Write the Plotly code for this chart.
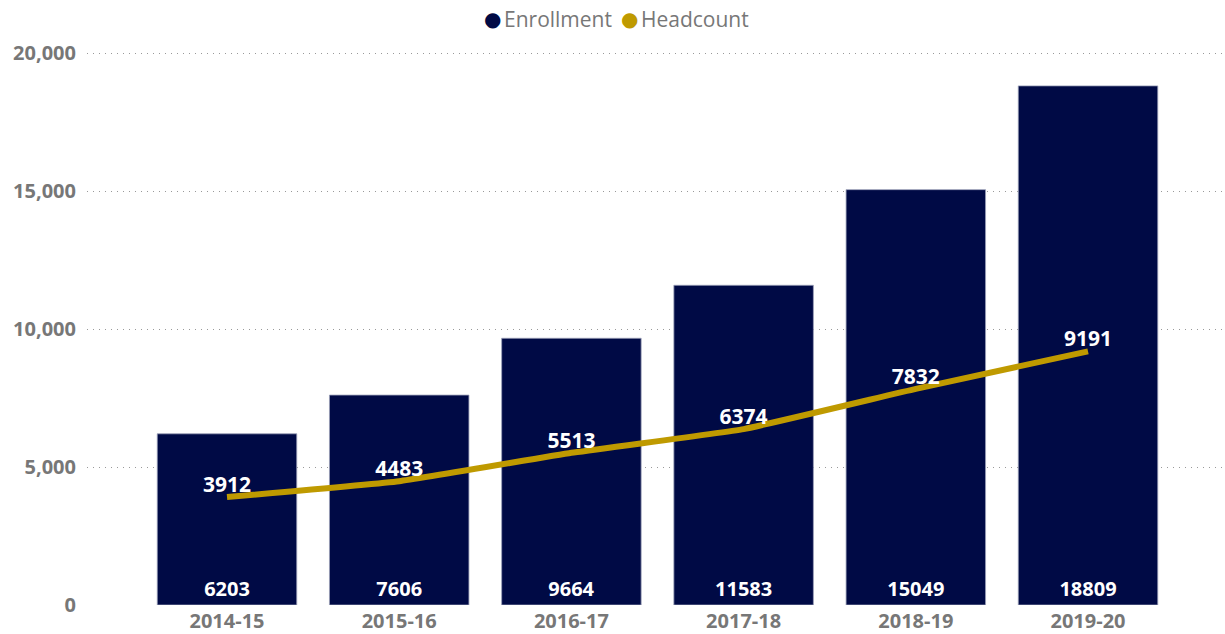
import plotly.graph_objects as go

years = ["2014-15", "2015-16", "2016-17", "2017-18", "2018-19", "2019-20"]
enrollment = [6203, 7606, 9664, 11583, 15049, 18809]
headcount = [3912, 4483, 5513, 6374, 7832, 9191]
y_ticks = [0, 5000, 10000, 15000, 20000]
y_tick_labels = ["0", "5,000", "10,000", "15,000", "20,000"]
series_names = ["Enrollment", "Headcount"]

FONT = "Open Sans"
NAVY = "#000A45"
GOLD = "#BF9A00"
GRAY = "#777777"

fig = go.Figure()
fig.add_trace(go.Bar(
    x=years, y=enrollment, name=series_names[0], showlegend=False,
    marker=dict(color=NAVY, line=dict(color="#9aa0b8", width=0.8)),
    text=[str(v) for v in enrollment], textposition="inside",
    insidetextanchor="start", textangle=0,
    textfont=dict(color="white", size=20, family=FONT, weight="bold"),
    cliponaxis=False,
))
fig.add_trace(go.Scatter(
    x=years, y=headcount, name=series_names[1], mode="lines+text", showlegend=False,
    line=dict(color=GOLD, width=6, shape="spline", smoothing=0.3),
    text=[str(v) for v in headcount], textposition="top center",
    textfont=dict(color="white", size=21, family=FONT, weight="bold"),
))

# custom legend (circle + label) at top center
W_PLOT = 1225 - 87 - 3
H_PLOT = 634 - 50 - 29
def px_x(p):
    return (p - 87) / W_PLOT
leg_y = 1 + (50 - 19) / H_PLOT
for name, color, cx, tx in [(series_names[0], NAVY, 492, 502),
                            (series_names[1], GOLD, 629, 639)]:
    fig.add_annotation(text="●", xref="paper", yref="paper", x=px_x(cx), y=leg_y,
                       xanchor="center", yanchor="middle", showarrow=False,
                       font=dict(family="DejaVu Sans", size=20, color=color))
    fig.add_annotation(text=name, xref="paper", yref="paper", x=px_x(tx), y=leg_y,
                       xanchor="left", yanchor="middle", showarrow=False,
                       font=dict(family=FONT, size=21, color=GRAY))

fig.update_layout(
    width=1225, height=634,
    margin=dict(l=87, r=3, t=50, b=29, autoexpand=False),
    paper_bgcolor="white", plot_bgcolor="white",
    bargap=0.19,
    showlegend=False,
    font=dict(family=FONT),
)
fig.update_xaxes(
    range=[-0.813, 5.778], showgrid=False, showline=False, ticks="",
    ticklabelstandoff=2,
    tickfont=dict(family=FONT, size=20, color=GRAY, weight="bold"),
)
fig.update_yaxes(
    range=[0, 20109], tickvals=y_ticks, ticktext=y_tick_labels,
    showgrid=True, gridcolor="#999999", griddash="1px,5px", gridwidth=1.2,
    zeroline=False, ticks="", ticklabelstandoff=10,
    tickfont=dict(family=FONT, size=20, color=GRAY, weight="bold"),
)
fig.write_html("out.html", config={"displayModeBar": False},
               post_script="document.body.style.margin='0';")
